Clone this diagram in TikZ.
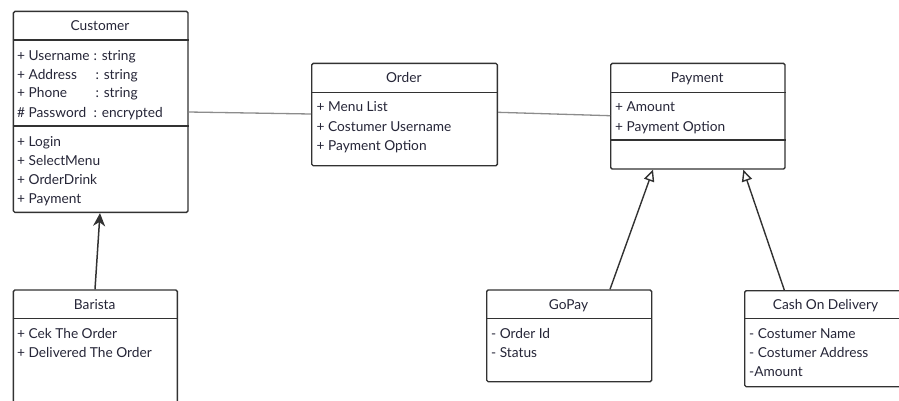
\documentclass[tikz,border=0pt]{standalone}
\usepackage{fontspec}
\setmainfont{Lato}
\usetikzlibrary{arrows.meta}
\definecolor{ink}{RGB}{38,38,56}
\definecolor{frame}{RGB}{50,50,50}
\definecolor{assoc}{RGB}{140,140,140}
\tikzset{
  x=1pt, y=-1pt,
  classbox/.style={draw=frame, line width=1.4pt, rounded corners=1.5pt,
    anchor=north west, inner sep=0pt, fill=white},
  classtitle/.style={anchor=base, inner sep=0pt, text=ink,
    font=\fontsize{13.7}{16}\selectfont},
  member/.style={anchor=base west, inner sep=0pt, text=ink,
    font=\fontsize{13.7}{16}\selectfont},
  divider/.style={draw=frame, line width=1.4pt},
  assocline/.style={draw=assoc, line width=1.3pt},
  navarrow/.style={draw=frame, line width=1.5pt,
    -{Stealth[length=13pt,width=12pt,inset=4pt]}},
  genarrow/.style={draw=frame, line width=1.4pt,
    -{Triangle[open,length=11.5pt,width=10.5pt,fill=white]}},
}
\begin{document}
\begin{tikzpicture}
\useasboundingbox (0,0) rectangle (899,400);
\clip (0,0) rectangle (899,400);

% ---------------- Customer ----------------
\node[classbox, minimum width=174.6pt, minimum height=201pt] (customer) at (12.7,10.7) {};
\draw[divider] (customer.west |- 0,40) -- (customer.east |- 0,40);
\draw[divider] (customer.west |- 0,126) -- (customer.east |- 0,126);
\node[classtitle] (customer-t) at (100,30) {Customer};
\node[member] (cu-a1) at (17,60) {+ Username};
\node[member] (cu-a1t) at (93.5,60) {: string};
\node[member] (cu-a2) at (17,79) {+ Address};
\node[member] (cu-a2t) at (95.5,79) {: string};
\node[member] (cu-a3) at (17,97.5) {+ Phone};
\node[member] (cu-a3t) at (95.5,97.5) {: string};
\node[member] (cu-a4) at (17,117) {\# Password};
\node[member] (cu-a4t) at (93.5,117) {: encrypted};
\node[member] (cu-m1) at (17,146) {+ Login};
\node[member] (cu-m2) at (17,165) {+ SelectMenu};
\node[member] (cu-m3) at (17,184) {+ OrderDrink};
\node[member] (cu-m4) at (17,203) {+ Payment};

% ---------------- Order ----------------
\node[classbox, minimum width=185.7pt, minimum height=102.3pt] (order) at (311,62.7) {};
\draw[divider] (order.west |- 0,92.3) -- (order.east |- 0,92.3);
\node[classtitle] (order-t) at (403.85,82) {Order};
\node[member] (or-a1) at (316.5,111.7) {+ Menu List};
\node[member] (or-a2) at (316.5,131) {+ Costumer Username};
\node[member] (or-a3) at (316.5,150) {+ Payment Option};

% ---------------- Payment ----------------
\node[classbox, minimum width=174.3pt, minimum height=105.6pt] (payment) at (610,62.7) {};
\draw[divider] (payment.west |- 0,92.3) -- (payment.east |- 0,92.3);
\draw[divider] (payment.west |- 0,140) -- (payment.east |- 0,140);
\node[classtitle] (payment-t) at (697.15,82) {Payment};
\node[member] (pa-a1) at (615,111.7) {+ Amount};
\node[member] (pa-a2) at (615,131) {+ Payment Option};

% ---------------- Barista ----------------
\node[classbox, minimum width=164pt, minimum height=130pt] (barista) at (12.7,289.3) {};
\draw[divider] (barista.west |- 0,318.3) -- (barista.east |- 0,318.3);
\node[classtitle] (barista-t) at (94.7,309) {Barista};
\node[member] (ba-m1) at (17,338) {+ Cek The Order};
\node[member] (ba-m2) at (17,357) {+ Delivered The Order};

% ---------------- GoPay ----------------
\node[classbox, minimum width=165pt, minimum height=91.7pt] (gopay) at (486,289.3) {};
\draw[divider] (gopay.west |- 0,318.3) -- (gopay.east |- 0,318.3);
\node[classtitle] (gopay-t) at (568.5,309) {GoPay};
\node[member] (go-a1) at (491,338) {- Order Id};
\node[member] (go-a2) at (491,357) {- Status};

% ---------------- Cash On Delivery ----------------
\node[classbox, minimum width=163pt, minimum height=96pt] (cod) at (744,290) {};
\draw[divider] (cod.west |- 0,318.3) -- (cod.east |- 0,318.3);
\node[classtitle] (cod-t) at (825.5,309) {Cash On Delivery};
\node[member] (co-a1) at (749,338) {- Costumer Name};
\node[member] (co-a2) at (749,357) {- Costumer Address};
\node[member] (co-a3) at (749,376) {-Amount};

% ---------------- Relations ----------------
\draw[assocline] ([yshift=-101.3pt]customer.north east) -- ([yshift=-51.3pt]order.north west);
\draw[assocline] ([yshift=-49.6pt]order.north east) -- ([yshift=-53pt]payment.north west);
\draw[navarrow] ([xshift=82.3pt]barista.north west) -- ([xshift=87.3pt]customer.south west);
\draw[genarrow] ([xshift=124pt]gopay.north west) -- ([xshift=43pt]payment.south west);
\draw[genarrow] ([xshift=40.3pt]cod.north west) -- ([xshift=133.3pt]payment.south west);
\end{tikzpicture}
\end{document}
